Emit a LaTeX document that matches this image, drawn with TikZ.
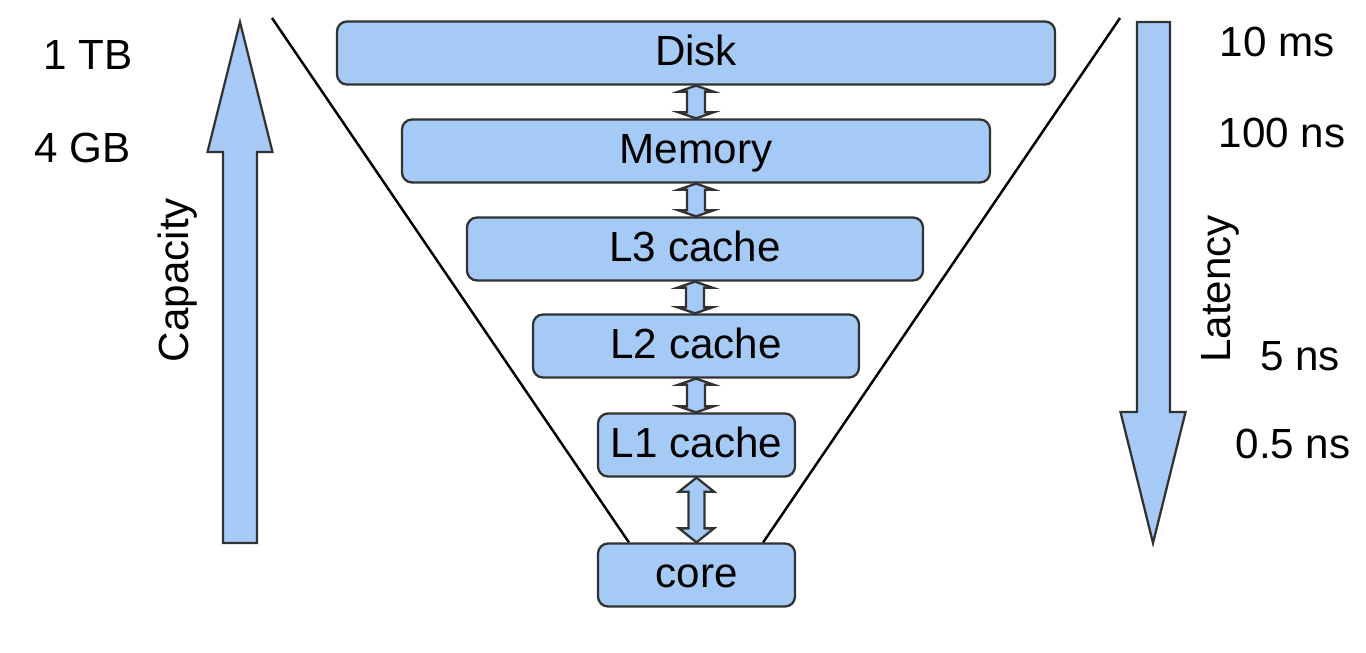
\documentclass[tikz,border=0pt]{standalone}
\usepackage{fontspec}
\setmainfont{Liberation Sans}
\usepackage{tikz}
\usetikzlibrary{calc}

\definecolor{boxblue}{RGB}{166,202,246}
\definecolor{edgegray}{RGB}{50,50,50}

% double arrow between two stacked boxes
\newcommand{\linkarrow}[4]{%
	\filldraw[link] let \p1=(#1.south), \p2=(#2.north) in
	(\x1,\y1) -- (\x1+0.175cm,\y1-#4) -- (\x1+#3,\y1-#4) -- (\x1+#3,\y2+#4)
	-- (\x1+0.175cm,\y2+#4) -- (\x1,\y2) -- (\x1-0.175cm,\y2+#4) -- (\x1-#3,\y2+#4)
	-- (\x1-#3,\y1-#4) -- (\x1-0.175cm,\y1-#4) -- cycle;}

\begin{document}
\begin{tikzpicture}[
	font=\fontsize{12}{14.5}\selectfont,
	level/.style={draw=edgegray, fill=boxblue, line width=0.65pt, rounded corners=0.1cm,
		minimum height=0.63cm, text height=0.72em, text depth=0pt, inner sep=0pt},
	link/.style={draw=edgegray, fill=boxblue, line width=0.65pt, line join=miter},
	funnel/.style={black, line width=0.7pt},
	side/.style={anchor=base, inner sep=0pt}]
	\useasboundingbox (0,0) rectangle (13.66,6.52);

	\node[level, minimum width=7.18cm] (disk) at (6.96,5.99) {Disk};
	\node[level, minimum width=5.88cm] (mem) at (6.96,5.01) {Memory};
	\node[level, minimum width=4.56cm] (lthree) at (6.95,4.03) {L3 cache};
	\node[level, minimum width=3.26cm] (ltwo) at (6.96,3.06) {L2 cache};
	\node[level, minimum width=1.97cm] (lone) at (6.965,2.07) {L1 cache};
	\node[level, minimum width=1.97cm] (core) at (6.965,0.77) {core};

	\linkarrow{disk}{mem}{0.09cm}{0.06cm}
	\linkarrow{mem}{lthree}{0.09cm}{0.06cm}
	\linkarrow{lthree}{ltwo}{0.09cm}{0.06cm}
	\linkarrow{ltwo}{lone}{0.09cm}{0.06cm}
	\linkarrow{lone}{core}{0.08cm}{0.14cm}

	\coordinate (ltop) at (2.72,6.34);
	\coordinate (rtop) at (11.20,6.34);
	\draw[funnel] (ltop) -- ([xshift=0.32cm]core.north west);
	\draw[funnel] (rtop) -- ([xshift=-0.33cm]core.north east);

	\filldraw[link] (2.40,6.30) -- (2.725,5.00) -- (2.57,5.00) -- (2.57,1.09)
		-- (2.23,1.09) -- (2.23,5.00) -- (2.075,5.00) -- cycle;
	\filldraw[link] (11.37,6.30) -- (11.70,6.30) -- (11.70,2.40) -- (11.855,2.40)
		-- (11.53,1.09) -- (11.205,2.40) -- (11.37,2.40) -- cycle;

	\node[side, rotate=90] (cap) at (1.88,3.72) {Capacity};
	\node[side, rotate=90] (lat) at (12.30,3.63) {Latency};

	\node[side] (tb) at (0.88,5.82) {1 TB};
	\node[side] (gb) at (0.825,4.90) {4 GB};
	\node[side] (ms) at (12.77,5.95) {10 ms};
	\node[side] (hns) at (12.82,5.04) {100 ns};
	\node[side] (fns) at (13.00,2.82) {5 ns};
	\node[side] (hfns) at (12.93,1.94) {0.5 ns};
\end{tikzpicture}
\end{document}
